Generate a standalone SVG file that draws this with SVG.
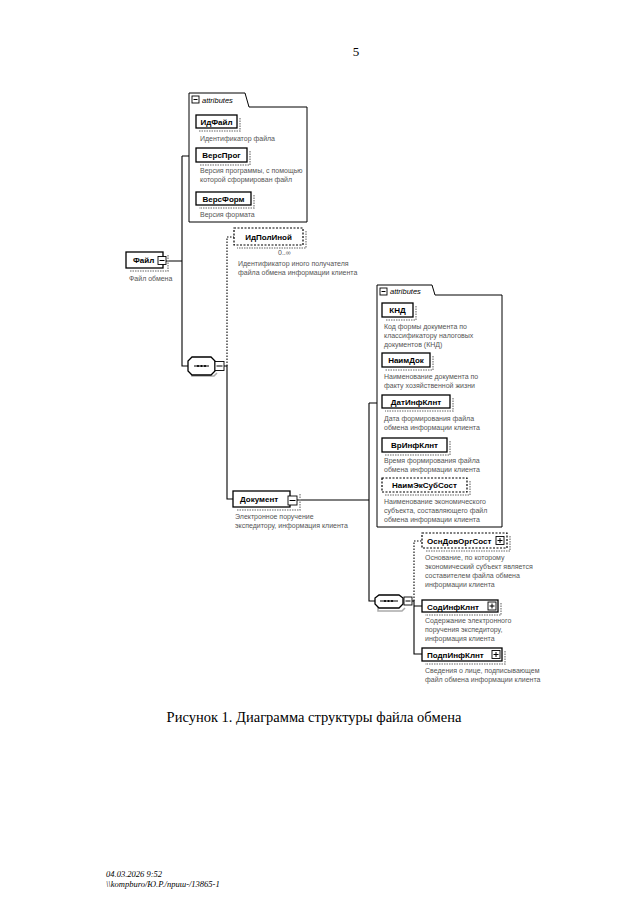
<svg xmlns="http://www.w3.org/2000/svg" width="640" height="905" viewBox="0 0 640 905">
<style>
.bg{fill:#fff}
.box{fill:#fff;stroke:#000;stroke-width:1.3}
.dbox{fill:#fff;stroke:#000;stroke-width:1.2;stroke-dasharray:2,1.5}
.sh{fill:none;stroke:#999;stroke-width:1.6;stroke-dasharray:1.5,1}
.nm{font-family:"Liberation Sans",Arial,sans-serif;font-weight:bold;font-size:8px;fill:#000}
.ds{font-family:"Liberation Sans",Arial,sans-serif;font-size:7px;fill:#555}
.ln{fill:none;stroke:#000;stroke-width:1.1}
.dl{fill:none;stroke:#000;stroke-width:1.1;stroke-dasharray:1.5,1.5}
.frame{fill:none;stroke:#000;stroke-width:1}
.tab{font-family:"Liberation Sans",Arial,sans-serif;font-style:italic;font-size:7.5px;fill:#000}
.pm{fill:#fff;stroke:#000;stroke-width:0.9}
</style>
<rect class="bg" x="0" y="0" width="640" height="905"/>
<text x="356" y="56" font-family="Liberation Serif,serif" font-size="13" text-anchor="middle">5</text>

<g id="connectors">
  <path class="ln" d="M166,261 H182 M182,156 V366 H188 M182,156 H189"/>
  <path class="dl" d="M227,366 V237 H234"/>
  <path class="ln" d="M224,366 H227 V499 H233"/>
  <path class="ln" d="M297,500 H369 M369,403 V601 H375 M369,403 H377"/>
  <path class="dl" d="M414,601 V541 H422"/>
  <path class="ln" d="M411,601 H414 V654 H422 M414,606 H422"/>
</g>

<g id="attributes1">
  <path class="frame" d="M189,222 V93 H245 L249,107 H307 V222 Z"/>
  <rect class="pm" x="192" y="96" width="7" height="7"/>
  <path d="M193.5,99.5 H197.5" stroke="#000" stroke-width="1"/>
  <text class="tab" x="202" y="102.5">attributes</text>
</g>
<g id="ИдФайл">
  <path class="sh" d="M240,118 V131 H199"/>
  <rect class="box" x="196" y="115" width="41" height="13"/>
  <text class="nm" x="216.5" y="124.5" text-anchor="middle">ИдФайл</text>
  <text class="ds" x="200" y="140.5">Идентификатор файла</text>
</g>
<g id="ВерсПрог">
  <path class="sh" d="M250,151 V165 H199"/>
  <rect class="box" x="196" y="148" width="51" height="14"/>
  <text class="nm" x="221.5" y="158" text-anchor="middle">ВерсПрог</text>
  <text class="ds" x="200" y="173">Версия программы, с помощью</text>
  <text class="ds" x="200" y="181.5">которой сформирован файл</text>
</g>
<g id="ВерсФорм">
  <path class="sh" d="M254,195 V208 H199"/>
  <rect class="box" x="196" y="192" width="55" height="13"/>
  <text class="nm" x="223.5" y="201.5" text-anchor="middle">ВерсФорм</text>
  <text class="ds" x="200" y="216.5">Версия формата</text>
</g>

<g id="Файл">
  <path class="sh" d="M168,255 V271 H129"/>
  <rect class="box" x="126" y="252" width="37" height="16"/>
  <text class="nm" x="133" y="263">Файл</text>
  <rect class="pm" x="158" y="256.5" width="8" height="8"/>
  <path d="M159.5,260.5 H164.5" stroke="#000" stroke-width="1"/>
  <text class="ds" x="129" y="280.5">Файл обмена</text>
</g>

<g id="sequence1">
  <path d="M193,360 L192,361 L192,376 L214,376 L217,373" fill="none" stroke="#aaa" stroke-width="1.5"/>
  <path class="box" d="M192,357 H211 L215,361 V371 L211,375 H192 L188,371 V361 Z"/>
  <path d="M194,366 H209" stroke="#000" stroke-width="1"/>
  <circle cx="198" cy="366" r="1.1"/><circle cx="201.5" cy="366" r="1.1"/><circle cx="205" cy="366" r="1.1"/>
  <rect class="pm" x="215" y="361.5" width="9" height="9"/>
  <path d="M216.5,366 H222.5" stroke="#000" stroke-width="1"/>
</g>

<g id="ИдПолИной">
  <path class="sh" d="M306,231 V248 H237"/>
  <rect class="dbox" x="234" y="228" width="69" height="17"/>
  <text class="nm" x="268.5" y="239.5" text-anchor="middle">ИдПолИной</text>
  <text class="ds" x="278" y="254.5" fill="#000">0..∞</text>
  <text class="ds" x="238" y="265.5">Идентификатор иного получателя</text>
  <text class="ds" x="238" y="274.5">файла обмена информации клиента</text>
</g>

<g id="Документ">
  <path class="sh" d="M300,494 V510 H236"/>
  <rect class="box" x="233" y="491" width="57" height="16"/>
  <text class="nm" x="240" y="502">Документ</text>
  <rect class="pm" x="288" y="496" width="9" height="9"/>
  <path d="M289.5,500.5 H295.5" stroke="#000" stroke-width="1"/>
  <text class="ds" x="235" y="519">Электронное поручение</text>
  <text class="ds" x="235" y="528">экспедитору, информация клиента</text>
</g>

<g id="attributes2">
  <path class="frame" d="M377,527 V285 H432 L435,295 H502 V527 Z"/>
  <rect class="pm" x="380" y="288" width="7" height="7"/>
  <path d="M381.5,291.5 H385.5" stroke="#000" stroke-width="1"/>
  <text class="tab" x="390" y="294">attributes</text>
</g>
<g id="КНД">
  <path class="sh" d="M416,306 V320 H385"/>
  <rect class="box" x="382" y="303" width="31" height="14"/>
  <text class="nm" x="397.5" y="313" text-anchor="middle">КНД</text>
  <text class="ds" x="384" y="328.5">Код формы документа по</text>
  <text class="ds" x="384" y="337.5">классификатору налоговых</text>
  <text class="ds" x="384" y="346.5">документов (КНД)</text>
</g>
<g id="НаимДок">
  <path class="sh" d="M433,356 V370 H385"/>
  <rect class="box" x="382" y="353" width="48" height="14"/>
  <text class="nm" x="406" y="363" text-anchor="middle">НаимДок</text>
  <text class="ds" x="384" y="378.5">Наименование документа по</text>
  <text class="ds" x="384" y="387.5">факту хозяйственной жизни</text>
</g>
<g id="ДатИнфКлнт">
  <path class="sh" d="M453,398 V411 H385"/>
  <rect class="box" x="382" y="395" width="68" height="13"/>
  <text class="nm" x="416" y="404.5" text-anchor="middle">ДатИнфКлнт</text>
  <text class="ds" x="384" y="420.5">Дата формирования файла</text>
  <text class="ds" x="384" y="429.5">обмена информации клиента</text>
</g>
<g id="ВрИнфКлнт">
  <path class="sh" d="M450,441 V455 H385"/>
  <rect class="box" x="382" y="438" width="65" height="14"/>
  <text class="nm" x="414.5" y="448" text-anchor="middle">ВрИнфКлнт</text>
  <text class="ds" x="384" y="462.5">Время формирования файла</text>
  <text class="ds" x="384" y="471.5">обмена информации клиента</text>
</g>
<g id="НаимЭкСубСост">
  <path class="sh" d="M470,481 V495 H385"/>
  <rect class="dbox" x="382" y="478" width="85" height="14"/>
  <text class="nm" x="424.5" y="488" text-anchor="middle">НаимЭкСубСост</text>
  <text class="ds" x="384" y="503.5">Наименование экономического</text>
  <text class="ds" x="384" y="512.5">субъекта, составляющего файл</text>
  <text class="ds" x="384" y="521.5">обмена информации клиента</text>
</g>

<g id="sequence2">
  <path d="M379,597 L378,598 L378,611 L402,611 L405,608" fill="none" stroke="#aaa" stroke-width="1.5"/>
  <path class="box" d="M379,595 H399 L403,598 V604 L399,608 H379 L375,604 V598 Z"/>
  <path d="M380,601 H398" stroke="#000" stroke-width="1"/>
  <circle cx="385" cy="601" r="1.1"/><circle cx="388.5" cy="601" r="1.1"/><circle cx="392" cy="601" r="1.1"/>
  <rect class="pm" x="404" y="597" width="8" height="8"/>
  <path d="M405.5,601 H410.5" stroke="#000" stroke-width="1"/>
</g>

<g id="ОснДовОргСост">
  <path class="sh" d="M510,536 V551 H425"/>
  <rect class="dbox" x="422" y="533" width="85" height="15"/>
  <text class="nm" x="427" y="543.5">ОснДовОргСост</text>
  <rect class="pm" x="496" y="536.5" width="8" height="8"/>
  <path d="M497.5,540.5 H502.5 M500,538 V543" stroke="#000" stroke-width="1"/>
  <text class="ds" x="425" y="559.5">Основание, по которому</text>
  <text class="ds" x="425" y="568.5">экономический субъект является</text>
  <text class="ds" x="425" y="577.5">составителем файла обмена</text>
  <text class="ds" x="425" y="586.5">информации клиента</text>
</g>
<g id="СодИнфКлнт">
  <path class="sh" d="M501,603 V615 H425"/>
  <rect class="box" x="422" y="600" width="76" height="12"/>
  <text class="nm" x="427" y="609.5">СодИнфКлнт</text>
  <rect class="pm" x="488" y="602" width="8" height="8"/>
  <path d="M489.5,606 H494.5 M492,603.5 V608.5" stroke="#000" stroke-width="1"/>
  <text class="ds" x="425" y="622.5">Содержание электронного</text>
  <text class="ds" x="425" y="631.5">поручения экспедитору,</text>
  <text class="ds" x="425" y="640.5">информация клиента</text>
</g>
<g id="ПодпИнфКлнт">
  <path class="sh" d="M505,651 V664 H425"/>
  <rect class="box" x="422" y="648" width="80" height="13"/>
  <text class="nm" x="427" y="658">ПодпИнфКлнт</text>
  <rect class="pm" x="492" y="650.5" width="8" height="8"/>
  <path d="M493.5,654.5 H498.5 M496,652 V657" stroke="#000" stroke-width="1"/>
  <text class="ds" x="425" y="672.5">Сведения о лице, подписывающем</text>
  <text class="ds" x="425" y="681.5">файл обмена информации клиента</text>
</g>

<text x="314" y="722" font-family="Liberation Serif,serif" font-size="14.5" text-anchor="middle">Рисунок 1. Диаграмма структуры файла обмена</text>

<text x="106" y="877" font-family="Liberation Serif,serif" font-style="italic" font-size="8.5">04.03.2026 9:52</text>
<text x="106" y="887" font-family="Liberation Serif,serif" font-style="italic" font-size="8.5">\\kompburo/Ю.Р./приш-/13865-1</text>
</svg>
